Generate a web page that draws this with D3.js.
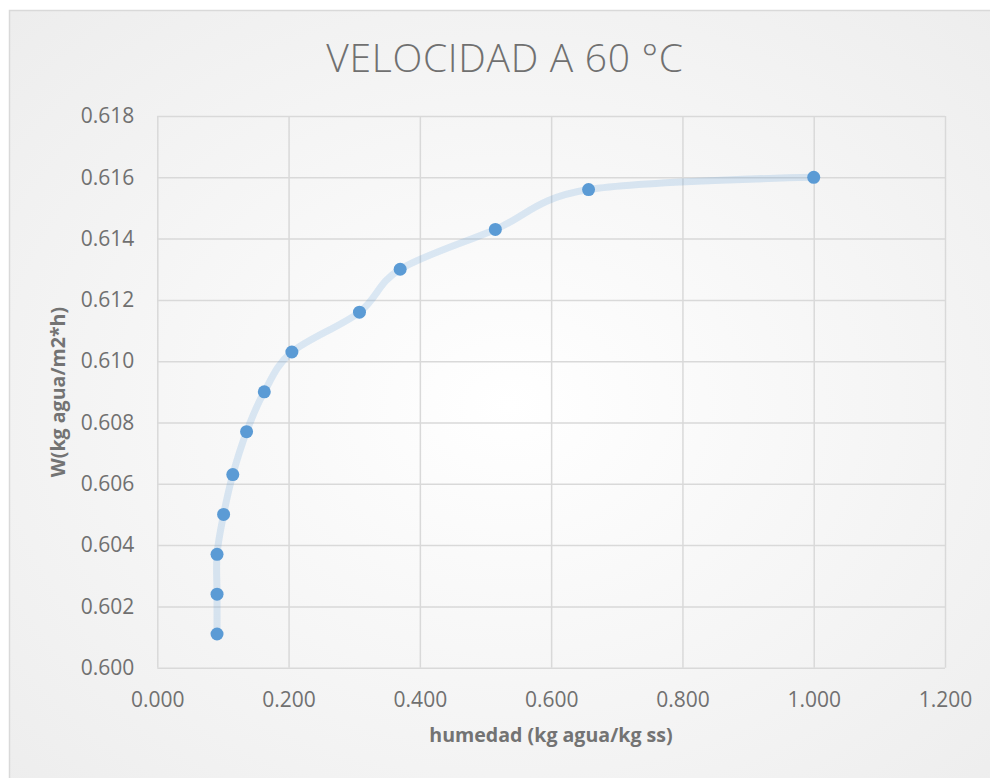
<!DOCTYPE html>
<html>
<head>
<meta charset="utf-8">
<script src="https://cdn.jsdelivr.net/npm/d3@7"></script>
<style>
  body { margin: 0; background: #ffffff; }
  svg { display: block; }
</style>
</head>
<body>
<div id="chart"></div>
<script>
// Chart size and plot box
var width = 990;
var height = 778;
var plotLeft = 157.3;
var plotRight = 945;
var plotTop = 116;
var plotBottom = 667.7;

// Data
var humedad = [1.000, 0.657, 0.515, 0.370, 0.308, 0.205, 0.163, 0.136, 0.115, 0.101, 0.091, 0.091, 0.091];
var velocidad = [0.6160, 0.6156, 0.6143, 0.6130, 0.6116, 0.6103, 0.6090, 0.6077, 0.6063, 0.6050, 0.6037, 0.6024, 0.6011];

// Tick values
var xTicks = [0, 0.2, 0.4, 0.6, 0.8, 1.0, 1.2];
var yTicks = [0.600, 0.602, 0.604, 0.606, 0.608, 0.610, 0.612, 0.614, 0.616, 0.618];

var x = d3.scaleLinear().domain([0, 1.2]).range([plotLeft, plotRight]);
var y = d3.scaleLinear().domain([0.600, 0.618]).range([plotBottom, plotTop]);
var fmt = d3.format(".3f");

var svg = d3.select("#chart")
    .append("svg")
    .attr("width", width)
    .attr("height", height);

// Background gradient of the chart area
var grad = svg.append("defs")
    .append("radialGradient")
    .attr("id", "bg")
    .attr("cx", "50%").attr("cy", "50%").attr("r", "70%");
grad.append("stop").attr("offset", "0%").attr("stop-color", "#ffffff");
grad.append("stop").attr("offset", "100%").attr("stop-color", "#ededed");

svg.append("rect")
    .attr("x", 9.5)
    .attr("y", 10.5)
    .attr("width", 1000)
    .attr("height", 790)
    .attr("fill", "url(#bg)")
    .attr("stroke", "#d9d9d9")
    .attr("stroke-width", 1.5);

// Gridlines
svg.append("g")
    .attr("transform", "translate(0," + plotBottom + ")")
    .call(d3.axisBottom(x).tickValues(xTicks).tickSize(-(plotBottom - plotTop)).tickFormat(""))
    .call(function(g) { g.select(".domain").remove(); })
    .selectAll("line")
    .attr("stroke", "#d9d9d9")
    .attr("stroke-width", 1.5);

svg.append("g")
    .attr("transform", "translate(" + plotLeft + ",0)")
    .call(d3.axisLeft(y).tickValues(yTicks).tickSize(-(plotRight - plotLeft)).tickFormat(""))
    .call(function(g) { g.select(".domain").remove(); })
    .selectAll("line")
    .attr("stroke", "#d9d9d9")
    .attr("stroke-width", 1.5);

// Tick labels
var xAxis = svg.append("g")
    .attr("transform", "translate(0," + plotBottom + ")")
    .call(d3.axisBottom(x).tickValues(xTicks).tickSize(0).tickPadding(24).tickFormat(fmt));
xAxis.select(".domain").remove();
xAxis.selectAll("text")
    .attr("font-family", "'Open Sans', sans-serif")
    .attr("font-size", 21)
    .attr("fill", "#707070");

var yAxis = svg.append("g")
    .attr("transform", "translate(" + plotLeft + ",0)")
    .call(d3.axisLeft(y).tickValues(yTicks).tickSize(0).tickPadding(23).tickFormat(fmt));
yAxis.select(".domain").remove();
yAxis.selectAll("text")
    .attr("font-family", "'Open Sans', sans-serif")
    .attr("font-size", 21)
    .attr("fill", "#707070");

// Series
var points = humedad.map(function(h, i) { return [h, velocidad[i]]; });

var line = d3.line()
    .x(function(d) { return x(d[0]); })
    .y(function(d) { return y(d[1]); })
    .curve(d3.curveCardinal.tension(0));

svg.append("path")
    .datum(points)
    .attr("d", line)
    .attr("fill", "none")
    .attr("stroke", "#5b9bd5")
    .attr("stroke-opacity", 0.2)
    .attr("stroke-width", 7)
    .attr("stroke-linecap", "round");

svg.selectAll(".dot")
    .data(points)
    .enter()
    .append("circle")
    .attr("class", "dot")
    .attr("cx", function(d) { return x(d[0]); })
    .attr("cy", function(d) { return y(d[1]); })
    .attr("r", 6.5)
    .attr("fill", "#5b9bd5");

// Titles
svg.append("text")
    .attr("x", 505)
    .attr("y", 72)
    .attr("text-anchor", "middle")
    .attr("font-family", "'Open Sans', sans-serif")
    .attr("font-weight", 300)
    .attr("font-size", 39)
    .attr("letter-spacing", 0.7)
    .attr("fill", "#707070")
    .text("VELOCIDAD A 60 °C");

svg.append("text")
    .attr("x", 551)
    .attr("y", 742)
    .attr("text-anchor", "middle")
    .attr("font-family", "'Open Sans', sans-serif")
    .attr("font-weight", "bold")
    .attr("font-size", 19.6)
    .attr("fill", "#737373")
    .text("humedad (kg agua/kg ss)");

svg.append("text")
    .attr("transform", "translate(65,392) rotate(-90)")
    .attr("text-anchor", "middle")
    .attr("font-family", "'Open Sans', sans-serif")
    .attr("font-weight", "bold")
    .attr("font-size", 19.6)
    .attr("fill", "#737373")
    .text("W(kg agua/m2*h)");
</script>
</body>
</html>
